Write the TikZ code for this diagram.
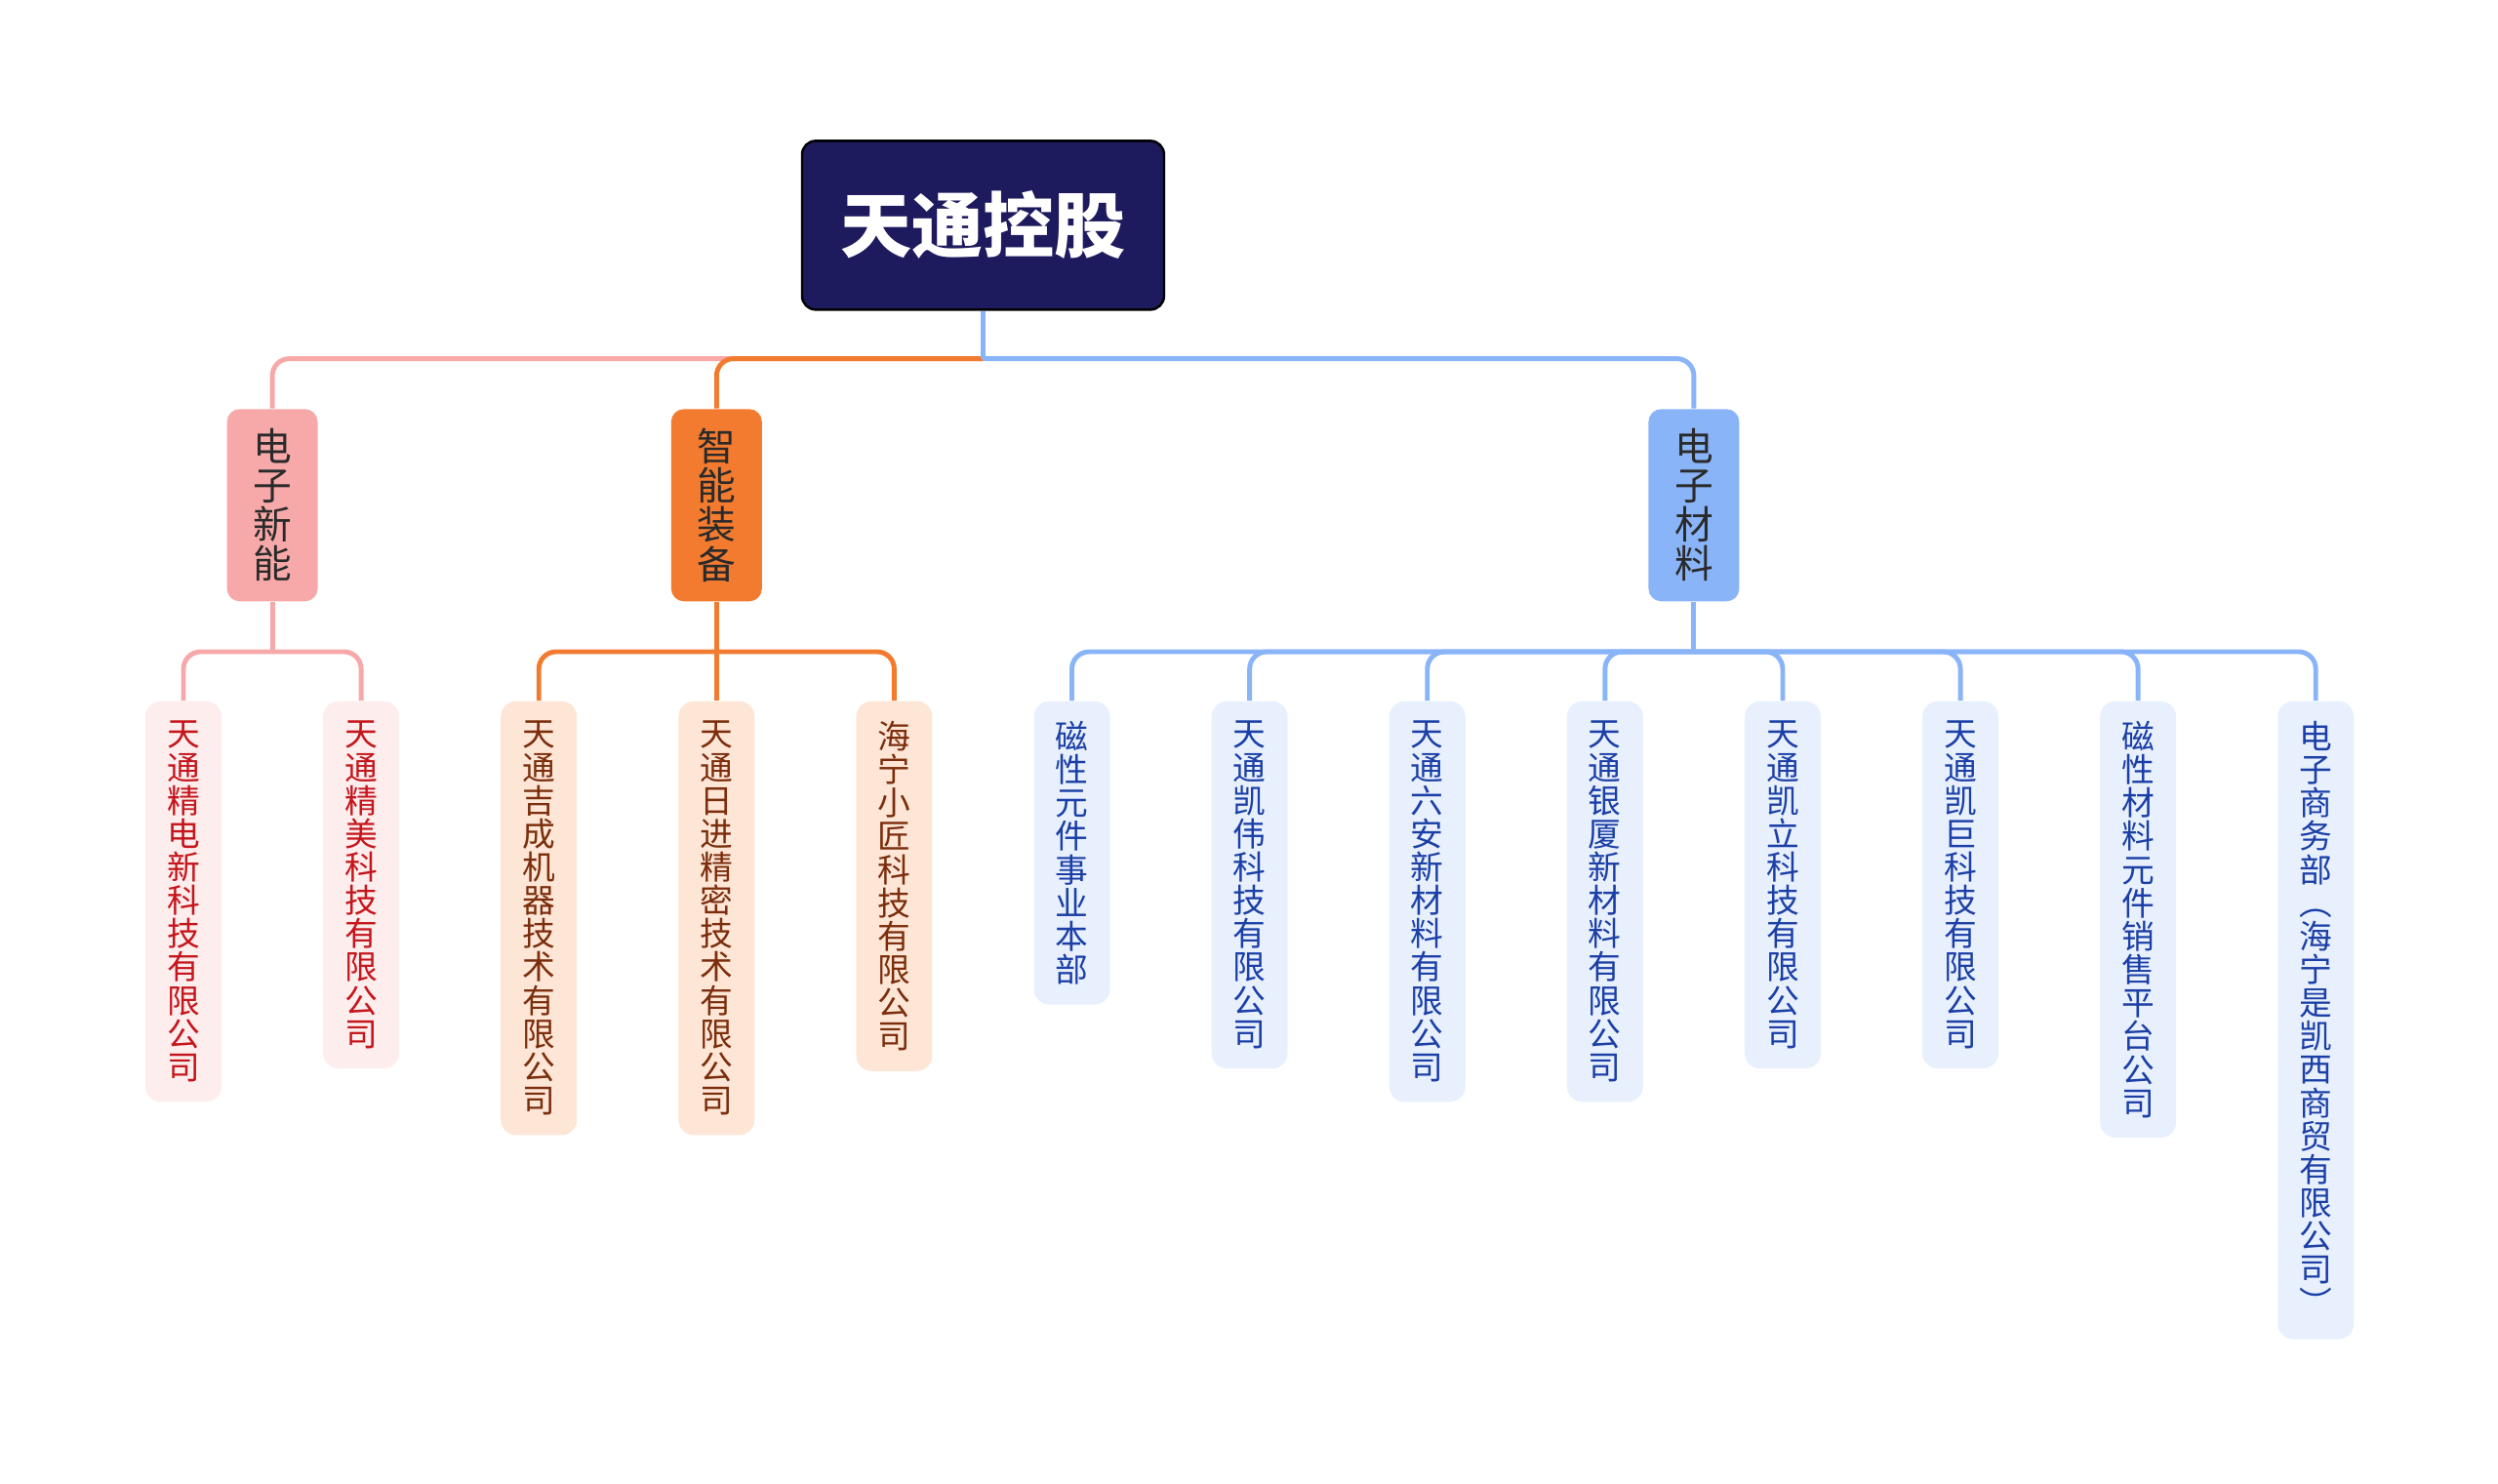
\documentclass[tikz,border=0pt]{standalone}
\usepackage{fontspec}
\setmainfont{Noto Sans CJK SC}
\usetikzlibrary{calc,positioning}
\definecolor{RootNavy}{HTML}{1E1A5E}
\definecolor{CatInk}{HTML}{2A2A2A}
\definecolor{PinkLine}{HTML}{F7A9A9}
\definecolor{PinkSoft}{HTML}{FDEDED}
\definecolor{PinkText}{HTML}{C4161C}
\definecolor{OrangeLine}{HTML}{F27B30}
\definecolor{OrangeSoft}{HTML}{FDE6D6}
\definecolor{OrangeText}{HTML}{7B2D0C}
\definecolor{BlueLine}{HTML}{8AB4F8}
\definecolor{BlueSoft}{HTML}{E8F0FD}
\definecolor{BlueText}{HTML}{1B3FA6}
% one character per line
\makeatletter
\def\vt@end{\vt@end}
\newcommand\vtext[1]{\vt@first#1\vt@end}
\def\vt@first#1{#1\vt@rest}
\def\vt@rest#1{\ifx\vt@end#1\expandafter\@gobble\else\expandafter\@firstofone\fi{\\#1\vt@rest}}
\makeatother
% turned brackets for the vertical text
\newcommand\vlp{\rotatebox[origin=c]{-90}{（}}
\newcommand\vrp{\rotatebox[origin=c]{-90}{）}}

\begin{document}
\begin{tikzpicture}[
    root/.style={rounded corners=4pt,draw=black,line width=.7pt,fill=RootNavy,
                 text=white,minimum width=3.71cm,minimum height=1.73cm,
                 font=\fontsize{20.8}{24}\selectfont\bfseries},
    cat/.style={rounded corners=3.7pt,minimum width=.93cm,minimum height=1.97cm,
                align=center,text=CatInk,inner sep=0pt,
                font=\fontsize{11.3}{11.4}\selectfont},
    leaf/.style={rounded corners=4.5pt,fill=#1Soft,text=#1Text,minimum width=.78cm,
                 align=center,inner xsep=0pt,inner ysep=5.8pt,
                 font=\fontsize{9.6}{9.72}\selectfont},
    link/.style={line width=1.4pt,rounded corners=5pt}]
  \useasboundingbox (0,0) rectangle (25.6,-15.21);

  % leaves
  \node[leaf=Pink,anchor=north] (l1) at (1.88,-7.18) {\vtext{天通精电新科技有限公司}};
  \node[leaf=Pink,right=1.027cm of l1.north east,anchor=north west] (l2) {\vtext{天通精美科技有限公司}};
  \node[leaf=Orange,right=1.027cm of l2.north east,anchor=north west] (l3) {\vtext{天通吉成机器技术有限公司}};
  \node[leaf=Orange,right=1.027cm of l3.north east,anchor=north west] (l4) {\vtext{天通日进精密技术有限公司}};
  \node[leaf=Orange,right=1.027cm of l4.north east,anchor=north west] (l5) {\vtext{海宁小匠科技有限公司}};
  \node[leaf=Blue,right=1.027cm of l5.north east,anchor=north west] (l6) {\vtext{磁性元件事业本部}};
  \node[leaf=Blue,right=1.027cm of l6.north east,anchor=north west] (l7) {\vtext{天通凯伟科技有限公司}};
  \node[leaf=Blue,right=1.027cm of l7.north east,anchor=north west] (l8) {\vtext{天通六安新材料有限公司}};
  \node[leaf=Blue,right=1.027cm of l8.north east,anchor=north west] (l9) {\vtext{天通银厦新材料有限公司}};
  \node[leaf=Blue,right=1.027cm of l9.north east,anchor=north west] (l10) {\vtext{天通凯立科技有限公司}};
  \node[leaf=Blue,right=1.027cm of l10.north east,anchor=north west] (l11) {\vtext{天通凯巨科技有限公司}};
  \node[leaf=Blue,right=1.027cm of l11.north east,anchor=north west] (l12) {\vtext{磁性材料元件销售平台公司}};
  \node[leaf=Blue,right=1.027cm of l12.north east,anchor=north west] (l13) {\vtext{电子商务部\vlp 海宁是凯西商贸有限公司\vrp}};

  % branches
  \path ($(l1.north)!.5!(l2.north)$) coordinate (m1);
  \path ($(l6.north)!.5!(l13.north)$) coordinate (m3);
  \node[cat,fill=PinkLine,above=1.01cm of m1] (c1) {\vtext{电子新能}};
  \node[cat,fill=OrangeLine,above=1.01cm of l4] (c2) {\vtext{智能装备}};
  \node[cat,fill=BlueLine,above=1.01cm of m3] (c3) {\vtext{电子材料}};

  \path ($(c1.north)!.5!(c3.north)$) coordinate (m0);
  \node[root,above=1.0cm of m0] (top) {天通控股};

  % connectors
  \coordinate (j0) at ($(top.south)+(0,-.49)$);
  \coordinate (j1) at ($(c1.south)+(0,-.51)$);
  \coordinate (j2) at ($(c2.south)+(0,-.51)$);
  \coordinate (j3) at ($(c3.south)+(0,-.51)$);

  \draw[link,PinkLine] (j0) -| (c1.north);
  \draw[link,OrangeLine] (j0) -| (c2.north);
  \draw[link,BlueLine] (j0) -| (c3.north);
  \draw[link,BlueLine] (top.south) -- (j0);

  \draw[link,PinkLine] (c1.south) -- (j1);
  \draw[link,PinkLine] (j1) -| (l1.north);
  \draw[link,PinkLine] (j1) -| (l2.north);

  \draw[link,OrangeLine] (c2.south) -- (j2);
  \draw[link,OrangeLine] (j2) -| (l3.north);
  \draw[link,OrangeLine] (j2) -| (l4.north);
  \draw[link,OrangeLine] (j2) -| (l5.north);

  \draw[link,BlueLine] (c3.south) -- (j3);
  \draw[link,BlueLine] (j3) -| (l6.north);
  \draw[link,BlueLine] (j3) -| (l7.north);
  \draw[link,BlueLine] (j3) -| (l8.north);
  \draw[link,BlueLine] (j3) -| (l9.north);
  \draw[link,BlueLine] (j3) -| (l10.north);
  \draw[link,BlueLine] (j3) -| (l11.north);
  \draw[link,BlueLine] (j3) -| (l12.north);
  \draw[link,BlueLine] (j3) -| (l13.north);
\end{tikzpicture}
\end{document}
